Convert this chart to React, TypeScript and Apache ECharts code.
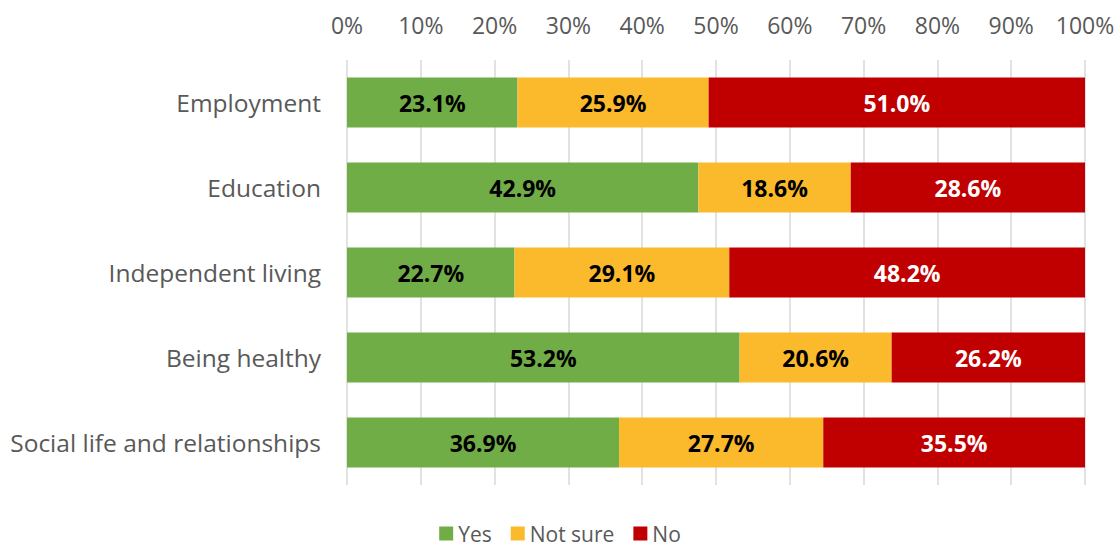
import React, { useEffect, useRef } from "react";
import * as echarts from "echarts";

const categories = [
  "Employment",
  "Education",
  "Independent living",
  "Being healthy",
  "Social life and relationships",
];
const yesValues = [23.1, 42.9, 22.7, 53.2, 36.9];
const notSureValues = [25.9, 18.6, 29.1, 20.6, 27.7];
const noValues = [51.0, 28.6, 48.2, 26.2, 35.5];
const seriesNames = ["Yes", "Not sure", "No"];
const colors = ["#70ad47", "#fbb92c", "#c00000"];
const labelColors = ["#000000", "#000000", "#ffffff"];

export default function App() {
  const ref = useRef<HTMLDivElement>(null);
  useEffect(() => {
    if (!ref.current) return;
    const chart = echarts.init(ref.current, null, { renderer: "svg" });
    const raw = [yesValues, notSureValues, noValues];
    const totals = categories.map((_, i) => raw.reduce((s, arr) => s + arr[i], 0));
    const series = raw.map((arr, si) => ({
      name: seriesNames[si],
      type: "bar",
      stack: "total",
      barCategoryGap: "41%",
      itemStyle: { color: colors[si] },
      label: {
        show: true,
        position: "inside",
        color: labelColors[si],
        fontFamily: "Open Sans",
        fontWeight: "bold",
        fontSize: 23,
        formatter: (p: any) => arr[p.dataIndex].toFixed(1) + "%",
      },
      data: arr.map((v, i) => (v / totals[i]) * 100),
    }));
    chart.setOption({
      animation: false,
      textStyle: { fontFamily: "Open Sans" },
      grid: { left: 347, right: 35, top: 60, bottom: 62, containLabel: false },
      legend: {
        data: seriesNames,
        bottom: 3,
        padding: 0,
        left: "center",
        itemWidth: 14,
        itemHeight: 14,
        itemGap: 19,
        icon: "rect",
        textStyle: { fontSize: 21, color: "#595959", fontFamily: "Open Sans" },
      },
      xAxis: {
        type: "value",
        position: "top",
        min: 0,
        max: 100,
        interval: 10,
        axisLine: { show: false },
        axisTick: { show: false },
        axisLabel: {
          formatter: "{value}%",
          fontSize: 23,
          color: "#595959",
          margin: 24,
          fontFamily: "Open Sans",
        },
        splitLine: { show: true, lineStyle: { color: "#d9d9d9", width: 1.5 } },
      },
      yAxis: {
        type: "category",
        inverse: true,
        data: categories,
        axisLine: { show: false },
        axisTick: { show: false },
        axisLabel: {
          fontSize: 24.5,
          color: "#595959",
          margin: 26,
          fontFamily: "Open Sans",
        },
      },
      series,
    });
    return () => chart.dispose();
  }, []);
  return (
    <div
      ref={ref}
      style={{ position: "fixed", left: 0, top: 0, width: 1120, height: 547, background: "#fff" }}
    />
  );
}
